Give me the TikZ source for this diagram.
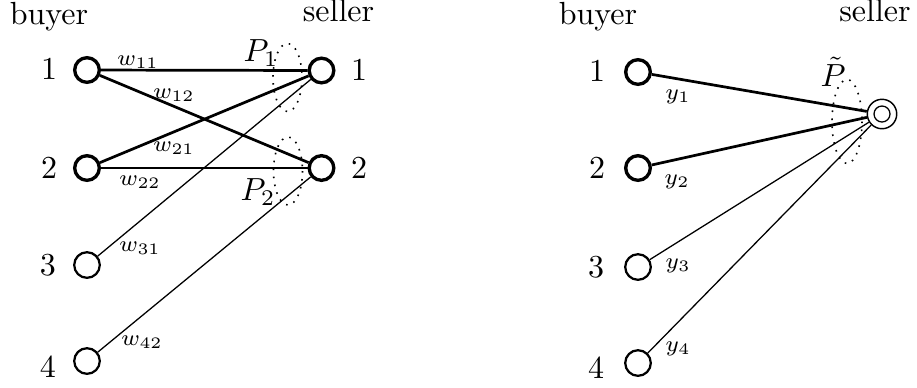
\documentclass[tikz,border=0pt]{standalone}
\usepackage{amsmath}
\tikzset{
  agent/.style={circle,draw,line width=1.05pt,minimum size=7.7pt,inner sep=0pt},
  agentthin/.style={agent,line width=0.7pt,minimum size=8pt},
  pool/.style={circle,draw,line width=0.45pt,minimum size=9.2pt,inner sep=0pt},
  tie/.style={line width=0.85pt},
  tiethin/.style={line width=0.4pt},
  grp/.style={dotted,line width=0.5pt},
  wlab/.style={font=\scriptsize,inner sep=0pt},
}
\begin{document}
\begin{tikzpicture}[x=0.3125pt,y=-0.3125pt]
\useasboundingbox (0,0) rectangle (917,387);
% left market: two sellers
\node[anchor=base] (buyL) at (49,24.5) {buyer};
\node[anchor=base] (sellL) at (338.5,21.5) {seller};
\node[agent] (b1) at (87,70) {};
\node[agent] (b2) at (87,168) {};
\node[agentthin] (b3) at (87,265) {};
\node[agentthin] (b4) at (87,361) {};
\node[agent] (s1) at (321.5,70.5) {};
\node[agent] (s2) at (321.5,168) {};
\node (nb1) at (49,69) {1};
\node (nb2) at (49,168) {2};
\node (nb3) at (48,265) {3};
\node (nb4) at (48,367) {4};
\node (ns1) at (359,70) {1};
\node (ns2) at (359,168) {2};
\draw[tie] (b1) -- (s1);
\draw[tie] (b1) -- (s2);
\draw[tie] (b2) -- (s1);
\draw[tie] (b2) -- (s2);
\draw[tiethin] (b3) -- (s1);
\draw[tiethin] (b4) -- (s2);
\draw[grp] (287.5,77.5) ellipse (14.5 and 34);
\draw[grp] (288,171) ellipse (14.5 and 34);
\node (P1) at (261,53) {$P_1$};
\node (P2) at (258,192) {$P_2$};
\node[wlab] (w11) at (138,62) {$w_{11}$};
\node[wlab] (w12) at (174,95) {$w_{12}$};
\node[wlab] (w21) at (174,148) {$w_{21}$};
\node[wlab] (w22) at (140,182) {$w_{22}$};
\node[wlab] (w31) at (140,248) {$w_{31}$};
\node[wlab] (w42) at (142,342) {$w_{42}$};
% right market: one pooled seller
\node[anchor=base] (buyR) at (598,24.5) {buyer};
\node[anchor=base] (sellR) at (875,21.5) {seller};
\node[agent] (c1) at (638,72) {};
\node[agent] (c2) at (638,168) {};
\node[agentthin] (c3) at (638,267) {};
\node[agentthin] (c4) at (638,363) {};
\node[pool] (t) at (882,114) {};
\draw[line width=0.4pt] (t.center) circle (2.5pt);
\node (nc1) at (597,71) {1};
\node (nc2) at (597,168) {2};
\node (nc3) at (596,267) {3};
\node (nc4) at (596,368) {4};
\draw[tie] (c1) -- (t);
\draw[tie] (c2) -- (t);
\draw[tiethin] (c3) -- (t);
\draw[tiethin] (c4) -- (t);
\draw[grp] (847,121.5) ellipse (15 and 42);
\node (Pt) at (833,72) {$\tilde{P}$};
\node[wlab] (y1) at (678,97) {$y_1$};
\node[wlab] (y2) at (677,182) {$y_2$};
\node[wlab] (y3) at (678,266) {$y_3$};
\node[wlab] (y4) at (678,349) {$y_4$};
\end{tikzpicture}
\end{document}
